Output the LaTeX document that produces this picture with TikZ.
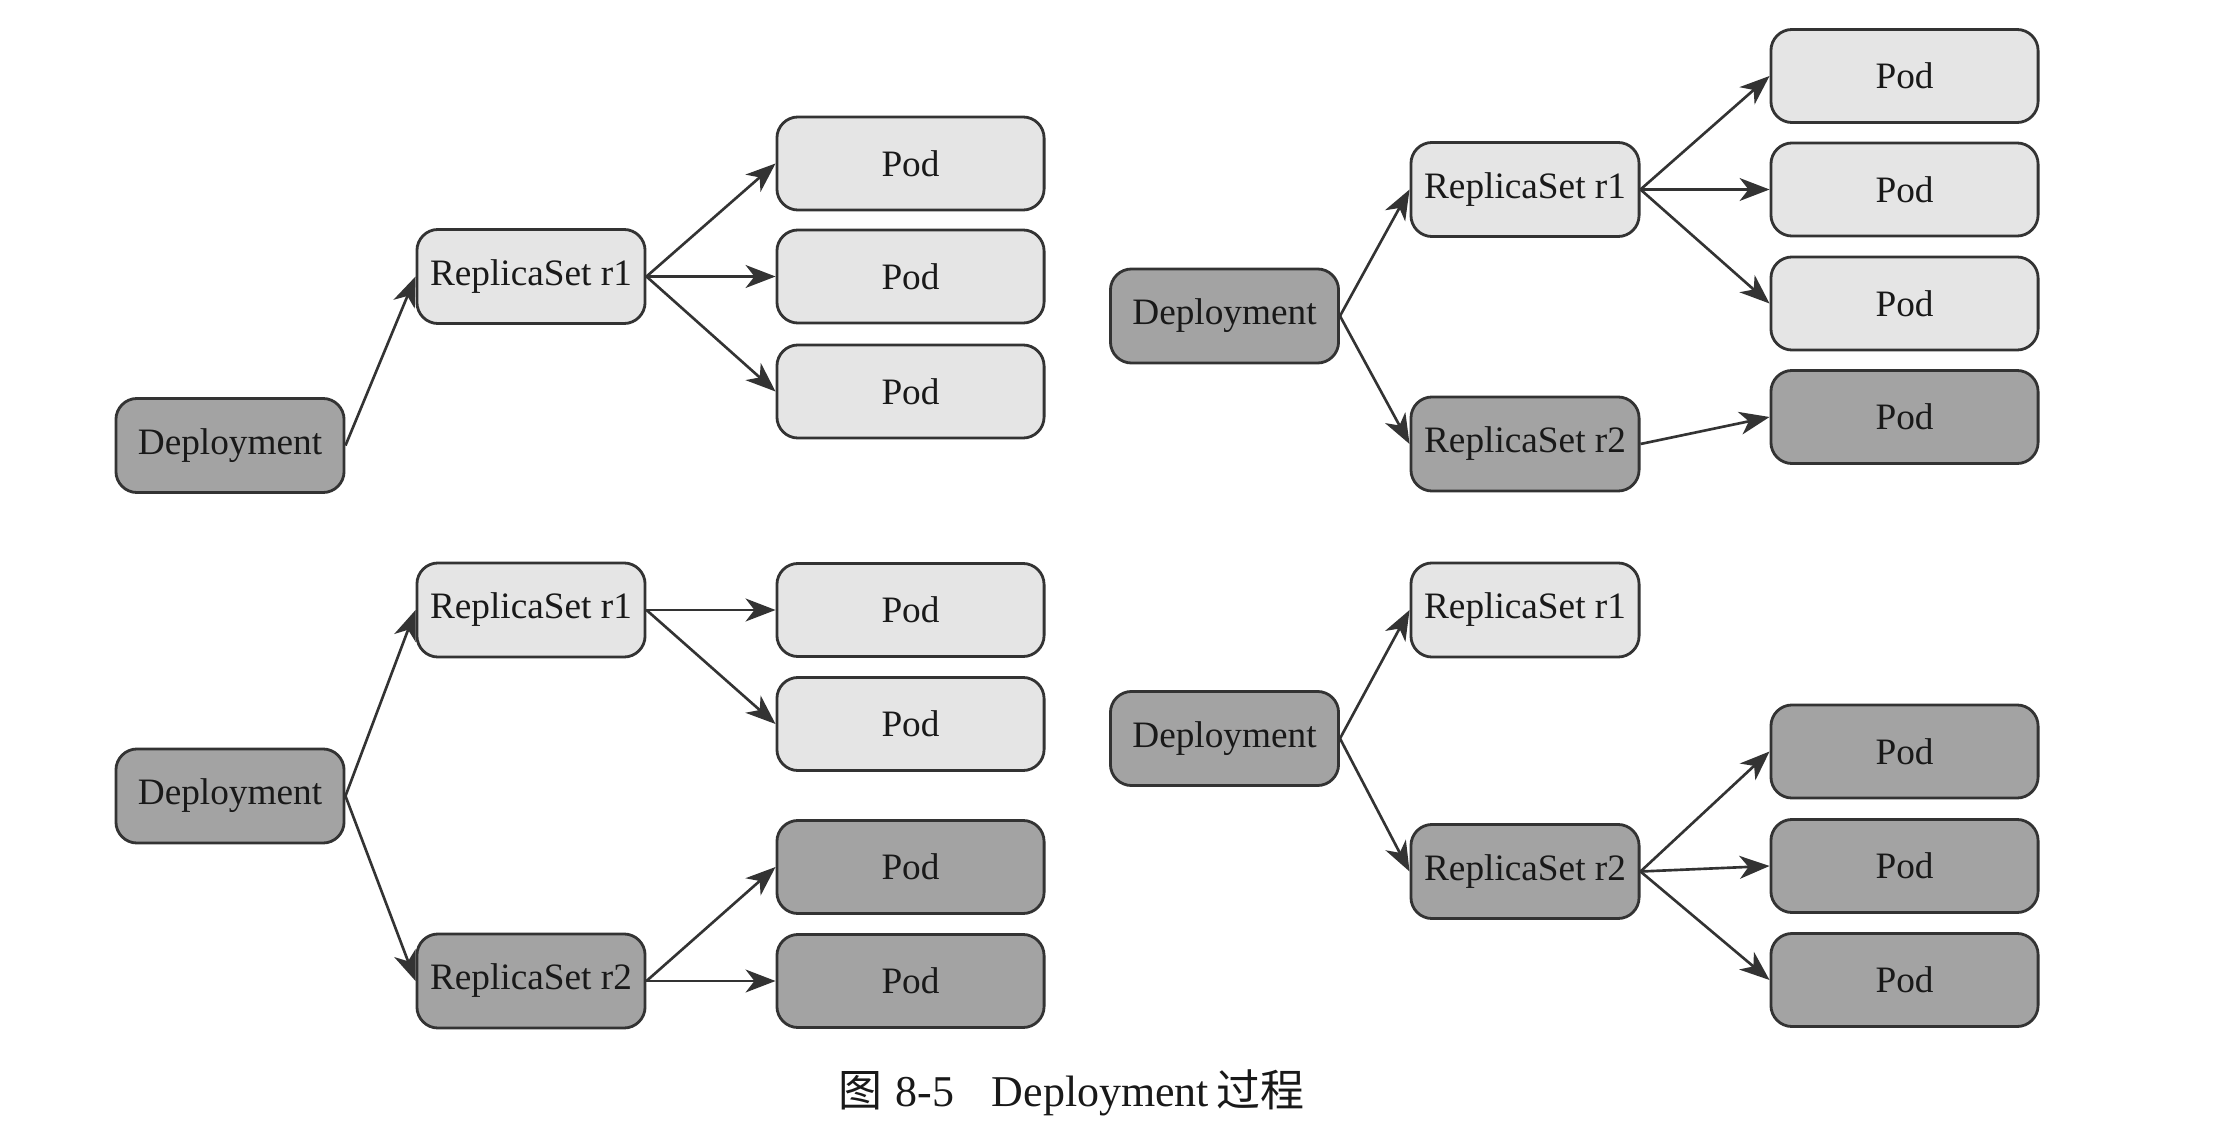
\documentclass[tikz,border=0pt]{standalone}
\usepackage{fontspec}
\setmainfont{Liberation Serif}
\newfontfamily\cjk{Noto Sans CJK SC}
\usetikzlibrary{arrows.meta}
\tikzset{
  box/.style={draw=black!80, line width=0.8pt, rounded corners=6pt,
    font=\fontsize{10.6}{12}\selectfont, text=black!90, inner sep=0pt},
  light/.style={box, fill=black!10},
  dark/.style={box, fill=black!36},
  podbox/.style={minimum width=2.67cm, minimum height=0.93cm},
  rsbox/.style={minimum width=2.28cm, minimum height=0.94cm},
  conn/.style={draw=black!80, line width=0.75pt,
    -{Stealth[length=8.5pt,width=6.5pt,inset=2.5pt]}},
}
\begin{document}
\begin{tikzpicture}[x=0.01cm, y=-0.01cm]
\useasboundingbox[fill=white] (0,0) rectangle (2240,1146);

% ---------- top left ----------
\node[dark,rsbox]   (tl-d)  at (230,445.5) {Deployment};
\node[light,rsbox]  (tl-r1) at (531,276.5) {ReplicaSet r1};
\node[light,podbox] (tl-p1) at (910.5,163.5) {Pod};
\node[light,podbox] (tl-p2) at (910.5,276.5) {Pod};
\node[light,podbox] (tl-p3) at (910.5,391.5) {Pod};
\draw[conn] (tl-d.east) -- (tl-r1.west);
\draw[conn] (tl-r1.east) -- (tl-p1.west);
\draw[conn] (tl-r1.east) -- (tl-p2.west);
\draw[conn] (tl-r1.east) -- (tl-p3.west);

% ---------- top right ----------
\node[dark,rsbox]   (tr-d)  at (1224.5,316) {Deployment};
\node[light,rsbox]  (tr-r1) at (1525,189.5) {ReplicaSet r1};
\node[dark,rsbox]   (tr-r2) at (1525,444) {ReplicaSet r2};
\node[light,podbox] (tr-p1) at (1904.5,76) {Pod};
\node[light,podbox] (tr-p2) at (1904.5,189.5) {Pod};
\node[light,podbox] (tr-p3) at (1904.5,303.5) {Pod};
\node[dark,podbox]  (tr-p4) at (1904.5,417) {Pod};
\draw[conn] (tr-d.east) -- (tr-r1.west);
\draw[conn] (tr-d.east) -- (tr-r2.west);
\draw[conn] (tr-r1.east) -- (tr-p1.west);
\draw[conn] (tr-r1.east) -- (tr-p2.west);
\draw[conn] (tr-r1.east) -- (tr-p3.west);
\draw[conn] (tr-r2.east) -- (tr-p4.west);

% ---------- bottom left ----------
\node[dark,rsbox]   (bl-d)  at (230,796) {Deployment};
\node[light,rsbox]  (bl-r1) at (531,610) {ReplicaSet r1};
\node[dark,rsbox]   (bl-r2) at (531,981) {ReplicaSet r2};
\node[light,podbox] (bl-p1) at (910.5,610) {Pod};
\node[light,podbox] (bl-p2) at (910.5,724) {Pod};
\node[dark,podbox]  (bl-p3) at (910.5,867) {Pod};
\node[dark,podbox]  (bl-p4) at (910.5,981) {Pod};
\draw[conn] (bl-d.east) -- (bl-r1.west);
\draw[conn] (bl-d.east) -- (bl-r2.west);
\draw[conn] (bl-r1.east) -- (bl-p1.west);
\draw[conn] (bl-r1.east) -- (bl-p2.west);
\draw[conn] (bl-r2.east) -- (bl-p3.west);
\draw[conn] (bl-r2.east) -- (bl-p4.west);

% ---------- bottom right ----------
\node[dark,rsbox]   (br-d)  at (1224.5,738.5) {Deployment};
\node[light,rsbox]  (br-r1) at (1525,610) {ReplicaSet r1};
\node[dark,rsbox]   (br-r2) at (1525,871.5) {ReplicaSet r2};
\node[dark,podbox]  (br-p1) at (1904.5,751.5) {Pod};
\node[dark,podbox]  (br-p2) at (1904.5,866) {Pod};
\node[dark,podbox]  (br-p3) at (1904.5,980) {Pod};
\draw[conn] (br-d.east) -- (br-r1.west);
\draw[conn] (br-d.east) -- (br-r2.west);
\draw[conn] (br-r2.east) -- (br-p1.west);
\draw[conn] (br-r2.east) -- (br-p2.west);
\draw[conn] (br-r2.east) -- (br-p3.west);

% ---------- caption ----------
\node[font=\fontsize{12.5}{14}\selectfont, text=black!90, anchor=base west, inner sep=0pt]
  (cap) at (838,1106) {{\cjk 图}\hspace{0.3em}8-5\hspace{0.85em}Deployment\,{\cjk 过程}};
\end{tikzpicture}
\end{document}
